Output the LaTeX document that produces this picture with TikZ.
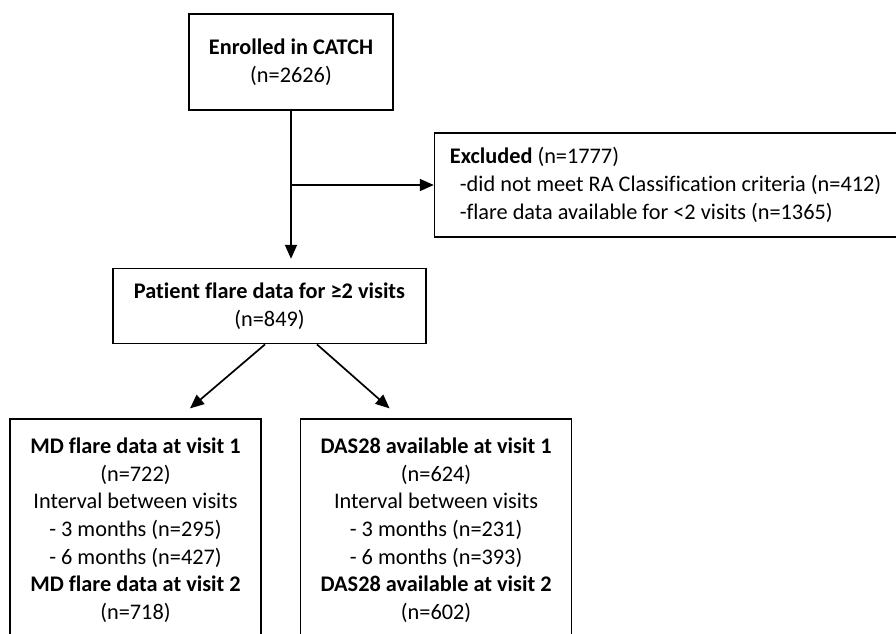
\documentclass[tikz,border=0pt]{standalone}
\usepackage{fontspec}
\setmainfont[Ligatures={NoCommon}]{Carlito}
\usepackage{tikz}
\usetikzlibrary{arrows.meta, positioning}

\begin{document}
\begin{tikzpicture}[x=1pt, y=1pt, node distance=1.0cm, >={Triangle[length=14pt,width=12pt]}, line width=1.6pt]
        \tikzset{
            box/.style={rectangle, draw, inner sep=0pt, align=center, font=\fontsize{22.3}{27.7}\selectfont},
            flow/.style={->, line width=1.7pt}
        }
        \useasboundingbox (0,0) rectangle (896,-633);
        \clip (0,0) rectangle (896,-633);

        \node[box, minimum width=204pt, minimum height=96pt] (enrolled) at (291,-62) {\textbf{Enrolled in CATCH}\\(n=2626)};
        \node[box, align=left, minimum width=462pt, minimum height=104pt, right=40pt of enrolled, yshift=-123pt] (excluded) {\textbf{Excluded} (n=1777)\\\hspace*{10pt}-did not meet RA Classification criteria (n=412)\\\hspace*{10pt}-flare data available for <2 visits (n=1365)};

        \node[box, minimum width=313pt, minimum height=75pt, below=157pt of enrolled, xshift=-21.5pt] (flare) {\textbf{Patient flare data for ≥2 visits}\\(n=849)};

        \node[box, minimum width=251pt, minimum height=222pt, below=74pt of flare, xshift=-134pt] (mdflare) {\textbf{MD flare data at visit 1}\\(n=722)\\Interval between visits\\- 3 months (n=295)\\- 6 months (n=427)\\\textbf{MD flare data at visit 2}\\(n=718)};
        \node[box, minimum width=271pt, minimum height=222pt, right=38pt of mdflare] (das) {\textbf{DAS28 available at visit 1}\\(n=624)\\Interval between visits\\- 3 months (n=231)\\- 6 months (n=393)\\\textbf{DAS28 available at visit 2}\\(n=602)};

        \draw[flow, shorten >=9pt] (enrolled.south) -- (enrolled.south |- flare.north);
        \draw[flow] (enrolled.south |- excluded.west) -- (excluded.west);
        \draw[flow] ([xshift=-4.5pt]flare.south) -- ([xshift=54.5pt, yshift=10pt]mdflare.north);
        \draw[flow] ([xshift=47.5pt]flare.south) -- ([xshift=-46.5pt, yshift=10pt]das.north);

    \end{tikzpicture}
\end{document}
